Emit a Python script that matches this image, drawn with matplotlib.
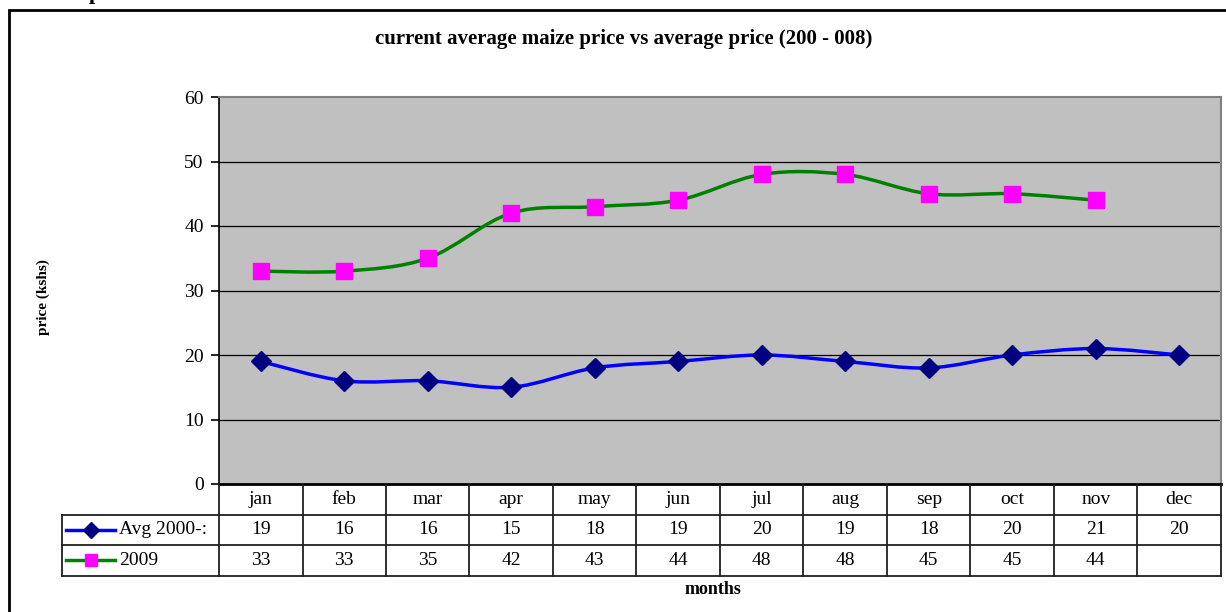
import numpy as np
import matplotlib
matplotlib.use("Agg")
import matplotlib.pyplot as plt
from matplotlib.path import Path
from matplotlib.patches import PathPatch, Rectangle
from matplotlib.lines import Line2D

# data
months = ["jan", "feb", "mar", "apr", "may", "jun", "jul", "aug", "sep", "oct", "nov", "dec"]
avg_label = "Avg 2000-:"
avg_price = [19, 16, 16, 15, 18, 19, 20, 19, 18, 20, 21, 20]
label_2009 = "2009"
price_2009 = [33, 33, 35, 42, 43, 44, 48, 48, 45, 45, 44]

title = "current average maize price vs average price (200 - 008)"
ylabel = "price (kshs)"
xlabel = "months"

plt.rcParams["font.family"] = ["Liberation Serif", "DejaVu Serif"]

W, H = 1226, 612
fig = plt.figure(figsize=(W / 100, H / 100), dpi=100)


def fx(px):
    return px / W


def fy(py):
    return 1 - py / H


# outer frame of the chart object
fig.add_artist(Rectangle((fx(9), fy(640)), fx(1300), fy(10) - fy(640), transform=fig.transFigure,
                         fill=False, edgecolor="black", linewidth=2))
# clipped heading above the frame (cut off in the original too)
fig.text(fx(89), fy(-1), "p", fontsize=16, fontweight="bold", va="baseline", ha="left")

left, right = 219, 1221
top, bottom = 97, 484
ax = fig.add_axes([fx(left), fy(bottom), fx(right - left), fy(top) - fy(bottom)])
ax.set_facecolor("#C0C0C0")
ax.set_xlim(-0.5, len(months) - 0.5)
ax.set_ylim(0, 60)
ax.set_yticks(range(0, 61, 10))
ax.tick_params(axis="y", direction="out", length=6, width=1.2, labelsize=14, pad=5)
ax.set_xticks([])
for y in range(10, 60, 10):
    ax.axhline(y, color="black", linewidth=0.9, zorder=1)
for s in ["top", "right"]:
    ax.spines[s].set_color("#808080")
    ax.spines[s].set_linewidth(1.5)
ax.spines["left"].set_color("black")
ax.spines["left"].set_linewidth(1.2)
ax.spines["bottom"].set_color("black")
ax.spines["bottom"].set_linewidth(2)


def smooth_path(vals):
    # Excel style smoothed line (Catmull-Rom as cubic Bezier)
    pts = np.array([[i, v] for i, v in enumerate(vals)], dtype=float)
    n = len(pts)
    verts = [pts[0]]
    codes = [Path.MOVETO]
    for i in range(n - 1):
        p0 = pts[i - 1] if i > 0 else pts[i]
        p1 = pts[i]
        p2 = pts[i + 1]
        p3 = pts[i + 2] if i + 2 < n else pts[i + 1]
        verts += [p1 + (p2 - p0) / 6, p2 - (p3 - p1) / 6, p2]
        codes += [Path.CURVE4] * 3
    return Path(verts, codes)


blue, navy = "#0000FF", "#000080"
green, magenta = "#008000", "#FF00FF"

ax.add_patch(PathPatch(smooth_path(price_2009), fill=False, edgecolor=green, linewidth=2.5, zorder=3))
ax.plot(range(len(price_2009)), price_2009, linestyle="none", marker="s", markersize=11.5,
        color=magenta, zorder=4)
ax.add_patch(PathPatch(smooth_path(avg_price), fill=False, edgecolor=blue, linewidth=2.5, zorder=3))
ax.plot(range(len(avg_price)), avg_price, linestyle="none", marker="D", markersize=10,
        color=navy, zorder=4)

fig.text(fx(624), fy(39), title, fontsize=15, fontweight="bold", ha="center", va="center")
fig.text(fx(43), fy(297), ylabel, rotation=90, fontsize=11, fontweight="bold", ha="center", va="center")
fig.text(fx(713), fy(589), xlabel, fontsize=13, fontweight="bold", ha="center", va="center")

# data table under the plot
row_h = 30.5
tax = fig.add_axes([fx(left), fy(bottom + 3 * row_h), fx(right - left), fy(bottom) - fy(bottom + 3 * row_h)],
                   sharex=ax)
tax.set_ylim(3, 0)
tax.axis("off")
lc = "#202020"
unit = (right - left) / len(months)
leg_left = -0.5 - (left - 62) / unit
kw = dict(color=lc, linewidth=1.3, clip_on=False)
for i in range(len(months) + 1):
    tax.plot([i - 0.5, i - 0.5], [0, 3], **kw)
for r in [1, 2, 3]:
    tax.plot([leg_left, len(months) - 0.5], [r, r], **kw)
tax.plot([leg_left, leg_left], [1, 3], **kw)

fs = 14
for i, m in enumerate(months):
    tax.text(i, 0.5, m, ha="center", va="center", fontsize=fs)
for i, v in enumerate(avg_price):
    tax.text(i, 1.5, str(v), ha="center", va="center", fontsize=fs)
for i, v in enumerate(price_2009):
    tax.text(i, 2.5, str(v), ha="center", va="center", fontsize=fs)

x0 = leg_left + 4 / unit
x1 = leg_left + 53 / unit
xm = (x0 + x1) / 2
tax.add_line(Line2D([x0, x1], [1.5, 1.5], color=blue, linewidth=2.5, clip_on=False))
tax.plot([xm], [1.5], marker="D", markersize=8, color=navy, clip_on=False)
tax.add_line(Line2D([x0, x1], [2.5, 2.5], color=green, linewidth=2.5, clip_on=False))
tax.plot([xm], [2.5], marker="s", markersize=9, color=magenta, clip_on=False)
tax.text(x1 + 4 / unit, 1.5, avg_label, ha="left", va="center", fontsize=fs)
tax.text(x1 + 4 / unit, 2.5, label_2009, ha="left", va="center", fontsize=fs)

fig.savefig("out.png", dpi=100)
